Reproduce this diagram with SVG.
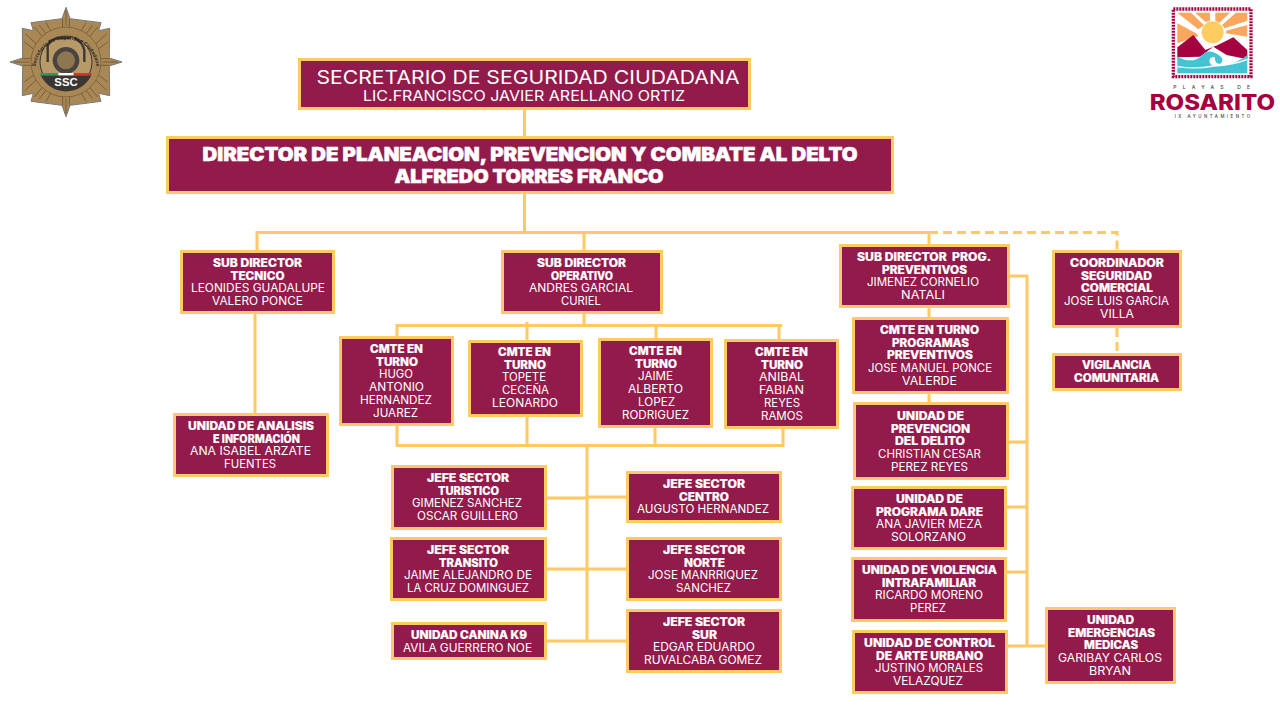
<svg xmlns="http://www.w3.org/2000/svg" width="1280" height="720" viewBox="0 0 1280 720">
<style>
text{font-family:"Inter","Liberation Sans",sans-serif;fill:#fff;text-anchor:middle;font-size:11.5px}
.b{font-weight:800;stroke:#fff;stroke-width:.2}
.r{font-weight:400}
.box{fill:#931B4B;stroke:#FFC965;stroke-width:3}
.c{fill:none;stroke:#FFC965;stroke-width:3}
.d{stroke-dasharray:9 5}
</style>
<rect width="1280" height="720" fill="#fff"/>
<g id="connectors">
<path class="c" d="M524.500 110V136M524.500 194V232.500M257 250V232.500H929M584 232.500V250M929 232.500V244M255 314V413"/>
<path class="c d" d="M929 232.500H1117V250M1117 328V353"/>
<path class="c" d="M584 314V325.500M397 336V325.500H782M527 322V340M656 325.500V338M779 325.500V339"/>
<path class="c" d="M397 426V445.500H783V429M527 417V445.500M655 428V445.500M587 444V641"/>
<path class="c" d="M547 498H587M587 497H626M547 569H626M547 641H626"/>
<path class="c" d="M929 308V317M929 394V402M1010 276H1027V647M1009 442H1027M1007 507H1027M1007 572H1027M1008 646H1045"/>
</g>
<g id="logo-ssc" transform="translate(66,62) scale(.3333)">
<polygon points="0,-164 12,-130 105,-118 98,-94 131,-101 130,-12 168,0 130,12 131,101 98,94 105,118 12,130 0,164 -12,130 -105,118 -98,94 -131,101 -130,12 -168,0 -130,-12 -131,-101 -98,-94 -105,-118 -12,-130" fill="#A98856" stroke="#77777a" stroke-width="3"/>
<g stroke="#6d5636" stroke-width="2.500">
<path d="M0-155V-110M-10-130V-105M10-130V-105M155 0H110M130-10H105M130 10H105M0 155V110M-10 130V105M10 130V105M-155 0H-110M-130-10H-105M-130 10H-105"/>
<path d="M95-105L70-75M80-110L58-82M60-118L45-92M-95-105L-70-75M-80-110L-58-82M-60-118L-45-92M95 105L70 75M80 110L58 82M60 118L45 92M-95 105L-70 75M-80 110L-58 82M-60 118L-45 92"/>
<path d="M122-85L85-50M125-60L92-35M-122-85L-85-50M-125-60L-92-35M122 85L85 50M125 60L92 35M-122 85L-85 50M-125 60L-92 35"/>
</g>
<circle r="105" fill="#A98856" stroke="#6d5636" stroke-width="2"/>
<circle r="78" fill="#B89A68" stroke="#3a3633" stroke-width="3"/>
<path d="M-76 40H76A84 84 0 0 1 -76 40Z" fill="#3a3633"/>
<circle cy="-5" r="40" fill="#4a4440"/>
<circle cy="-5" r="27" fill="#8d7650"/>
<path d="M-55 0V-50Q-45-70-20-72H15M55 0V-35Q50-60 25-72" fill="none" stroke="#3a3633" stroke-width="7"/>
<rect x="-77" y="33" width="54" height="7" fill="#2E9A57"/>
<rect x="-23" y="33" width="46" height="7" fill="#fff"/>
<rect x="23" y="33" width="54" height="7" fill="#D5342B"/>
<text y="71" style="font-size:34px;font-weight:800;font-family:'Liberation Sans',sans-serif">SSC</text>
<path id="ssc-arc" d="M-91 10A92 92 0 0 1 91 10" fill="none"/>
<text textLength="270" style="font-size:15px;fill:#2d2a28;font-weight:700"><textPath href="#ssc-arc" startOffset="50%">Secretaria De Seguridad Ciudadana</textPath></text>
</g>
<g id="logo-rosarito" transform="translate(1130,0) scale(.3333)">
<rect x="130" y="27" width="233" height="203" fill="#fff" stroke="#A5003F" stroke-width="10" stroke-dasharray="6 3"/>
<rect x="142" y="38" width="210" height="182" fill="#fff"/>
<g fill="#F9A65E">
<polygon points="142,38 183,38 222,76 205,88"/>
<polygon points="195,38 240,38 240,62 227,66"/>
<polygon points="256,38 300,38 268,68 256,62"/>
<polygon points="318,38 352,38 352,62 284,85 276,75"/>
<polygon points="352,75 352,110 288,100 288,92"/>
<polygon points="142,70 198,100 205,108 142,130"/>
</g>
<circle cx="248" cy="97" r="33" fill="#FFCD5F"/>
<polygon points="142,142 190,105 226,150 262,136 310,112 352,150 352,178 290,165 250,140 210,170 142,172" fill="#A5003F"/>
<path d="M142 170Q185 192 212 170Q235 140 270 168Q285 180 270 192Q255 190 255 178Q258 165 240 175Q230 205 285 195Q320 190 352 165V208Q300 205 270 208Q210 220 142 205Z" fill="#45C3D5"/>
<rect x="142" y="205" width="210" height="15" fill="#45C3D5"/>
<path d="M142 200Q200 208 250 198Q310 195 352 178" fill="none" stroke="#fff" stroke-width="4"/>
<text x="245" y="266" textLength="230" lengthAdjust="spacing" style="font-size:15px;fill:#444;font-weight:500">PLAYAS DE</text>
<text x="247" y="329" textLength="376" lengthAdjust="spacingAndGlyphs" style="font-size:64px;fill:#A5003F;font-weight:800">ROSARITO</text>
<text x="247" y="353" textLength="226" lengthAdjust="spacing" style="font-size:13px;fill:#444;font-weight:500">IX AYUNTAMIENTO</text>
</g>
<g id="n-secretario"><rect class="box" x="299.500" y="59.500" width="450" height="49"/>
<text class="r" x="528" y="84" textLength="423" lengthAdjust="spacingAndGlyphs" style="font-size:19px">SECRETARIO DE SEGURIDAD CIUDADANA</text>
<text class="r" x="524" y="101" textLength="322" lengthAdjust="spacingAndGlyphs" style="font-size:14.500px">LIC.FRANCISCO JAVIER ARELLANO ORTIZ</text></g>
<g id="n-director"><rect class="box" x="167.500" y="137.500" width="725" height="55"/>
<text class="b" x="530" y="161" textLength="655" lengthAdjust="spacingAndGlyphs" style="font-size:18.500px;font-weight:900;stroke-width:.5">DIRECTOR DE PLANEACION, PREVENCION Y COMBATE AL DELTO</text>
<text class="b" x="529" y="183" textLength="269" lengthAdjust="spacingAndGlyphs" style="font-size:18.500px;font-weight:900;stroke-width:.5">ALFREDO TORRES FRANCO</text></g>
<g id="n-tecnico"><rect class="box" x="181.500" y="251.500" width="152" height="61"/>
<text class="b" x="257.500" y="267" textLength="89" lengthAdjust="spacingAndGlyphs">SUB DIRECTOR</text>
<text class="b" x="257.500" y="280" textLength="54" lengthAdjust="spacingAndGlyphs">TECNICO</text>
<text class="r" x="258" y="292" textLength="134" lengthAdjust="spacingAndGlyphs">LEONIDES GUADALUPE</text>
<text class="r" x="257.500" y="305" textLength="91" lengthAdjust="spacingAndGlyphs">VALERO PONCE</text></g>
<g id="n-operativo"><rect class="box" x="502.500" y="251.500" width="159" height="61"/>
<text class="b" x="581.500" y="267" textLength="89" lengthAdjust="spacingAndGlyphs">SUB DIRECTOR</text>
<text class="b" x="582" y="280" textLength="62" lengthAdjust="spacingAndGlyphs">OPERATIVO</text>
<text class="r" x="581" y="292" textLength="104" lengthAdjust="spacingAndGlyphs">ANDRES GARCIAL</text>
<text class="r" x="581" y="305" textLength="40" lengthAdjust="spacingAndGlyphs">CURIEL</text></g>
<g id="n-prog"><rect class="box" x="840.500" y="245.500" width="168" height="61"/>
<text class="b" x="924" y="261" textLength="134" lengthAdjust="spacingAndGlyphs" xml:space="preserve">SUB DIRECTOR  PROG.</text>
<text class="b" x="924.500" y="274" textLength="85" lengthAdjust="spacingAndGlyphs">PREVENTIVOS</text>
<text class="r" x="923" y="286" textLength="112" lengthAdjust="spacingAndGlyphs">JIMENEZ CORNELIO</text>
<text class="r" x="923" y="299" textLength="44" lengthAdjust="spacingAndGlyphs">NATALI</text></g>
<g id="n-coordinador"><rect class="box" x="1053.500" y="251.500" width="127" height="75"/>
<text class="b" x="1117" y="267" textLength="94" lengthAdjust="spacingAndGlyphs">COORDINADOR</text>
<text class="b" x="1116.500" y="280" textLength="71" lengthAdjust="spacingAndGlyphs">SEGURIDAD</text>
<text class="b" x="1117" y="292" textLength="72" lengthAdjust="spacingAndGlyphs">COMERCIAL</text>
<text class="r" x="1116.500" y="305" textLength="105" lengthAdjust="spacingAndGlyphs">JOSE LUIS GARCIA</text>
<text class="r" x="1117" y="318" textLength="34" lengthAdjust="spacingAndGlyphs">VILLA</text></g>
<g id="n-vigilancia"><rect class="box" x="1053.500" y="354.500" width="127" height="35"/>
<text class="b" x="1116.500" y="369" textLength="69" lengthAdjust="spacingAndGlyphs">VIGILANCIA</text>
<text class="b" x="1116.500" y="382" textLength="85" lengthAdjust="spacingAndGlyphs">COMUNITARIA</text></g>
<g id="n-analisis"><rect class="box" x="174.500" y="414.500" width="153" height="61"/>
<text class="b" x="251" y="430" textLength="126" lengthAdjust="spacingAndGlyphs">UNIDAD DE ANALISIS</text>
<text class="b" x="256.500" y="443" textLength="87" lengthAdjust="spacingAndGlyphs">E INFORMACIÓN</text>
<text class="r" x="250.500" y="455" textLength="121" lengthAdjust="spacingAndGlyphs">ANA ISABEL ARZATE</text>
<text class="r" x="250" y="468" textLength="52" lengthAdjust="spacingAndGlyphs">FUENTES</text></g>
<g id="n-cmte1"><rect class="box" x="340.500" y="337.500" width="112" height="87"/>
<text class="b" x="396.500" y="353" textLength="53" lengthAdjust="spacingAndGlyphs">CMTE EN</text>
<text class="b" x="397" y="366" textLength="42" lengthAdjust="spacingAndGlyphs">TURNO</text>
<text class="r" x="396" y="378" textLength="34" lengthAdjust="spacingAndGlyphs">HUGO</text>
<text class="r" x="396.500" y="391" textLength="55" lengthAdjust="spacingAndGlyphs">ANTONIO</text>
<text class="r" x="396" y="404" textLength="72" lengthAdjust="spacingAndGlyphs">HERNANDEZ</text>
<text class="r" x="395.500" y="417" textLength="45" lengthAdjust="spacingAndGlyphs">JUAREZ</text></g>
<g id="n-cmte2"><rect class="box" x="469.500" y="341.500" width="112" height="74"/>
<text class="b" x="524.500" y="356" textLength="53" lengthAdjust="spacingAndGlyphs">CMTE EN</text>
<text class="b" x="525" y="369" textLength="42" lengthAdjust="spacingAndGlyphs">TURNO</text>
<text class="r" x="524" y="381" textLength="44" lengthAdjust="spacingAndGlyphs">TOPETE</text>
<text class="r" x="525.500" y="394" textLength="47" lengthAdjust="spacingAndGlyphs">CECEÑA</text>
<text class="r" x="525" y="407" textLength="66" lengthAdjust="spacingAndGlyphs">LEONARDO</text></g>
<g id="n-cmte3"><rect class="box" x="599.500" y="339.500" width="112" height="87"/>
<text class="b" x="655.500" y="355" textLength="53" lengthAdjust="spacingAndGlyphs">CMTE EN</text>
<text class="b" x="656" y="368" textLength="42" lengthAdjust="spacingAndGlyphs">TURNO</text>
<text class="r" x="655.500" y="380" textLength="35" lengthAdjust="spacingAndGlyphs">JAIME</text>
<text class="r" x="655.500" y="393" textLength="55" lengthAdjust="spacingAndGlyphs">ALBERTO</text>
<text class="r" x="656.500" y="406" textLength="37" lengthAdjust="spacingAndGlyphs">LOPEZ</text>
<text class="r" x="655.500" y="419" textLength="67" lengthAdjust="spacingAndGlyphs">RODRIGUEZ</text></g>
<g id="n-cmte4"><rect class="box" x="725.500" y="340.500" width="112" height="87"/>
<text class="b" x="781.500" y="356" textLength="53" lengthAdjust="spacingAndGlyphs">CMTE EN</text>
<text class="b" x="782" y="369" textLength="42" lengthAdjust="spacingAndGlyphs">TURNO</text>
<text class="r" x="781.500" y="381" textLength="45" lengthAdjust="spacingAndGlyphs">ANIBAL</text>
<text class="r" x="781.500" y="394" textLength="45" lengthAdjust="spacingAndGlyphs">FABIAN</text>
<text class="r" x="782" y="407" textLength="36" lengthAdjust="spacingAndGlyphs">REYES</text>
<text class="r" x="782" y="420" textLength="42" lengthAdjust="spacingAndGlyphs">RAMOS</text></g>
<g id="n-turistico"><rect class="box" x="392.500" y="466.500" width="153" height="62"/>
<text class="b" x="468" y="482" textLength="82" lengthAdjust="spacingAndGlyphs">JEFE SECTOR</text>
<text class="b" x="468.500" y="495" textLength="61" lengthAdjust="spacingAndGlyphs">TURISTICO</text>
<text class="r" x="467" y="507" textLength="110" lengthAdjust="spacingAndGlyphs">GIMENEZ SANCHEZ</text>
<text class="r" x="467.500" y="520" textLength="101" lengthAdjust="spacingAndGlyphs">OSCAR GUILLERO</text></g>
<g id="n-centro"><rect class="box" x="627.500" y="472.500" width="153" height="49"/>
<text class="b" x="704" y="488" textLength="82" lengthAdjust="spacingAndGlyphs">JEFE SECTOR</text>
<text class="b" x="704" y="501" textLength="50" lengthAdjust="spacingAndGlyphs">CENTRO</text>
<text class="r" x="703" y="513" textLength="132" lengthAdjust="spacingAndGlyphs">AUGUSTO HERNANDEZ</text></g>
<g id="n-transito"><rect class="box" x="391.500" y="538.500" width="154" height="61"/>
<text class="b" x="468" y="554" textLength="82" lengthAdjust="spacingAndGlyphs">JEFE SECTOR</text>
<text class="b" x="468.500" y="567" textLength="59" lengthAdjust="spacingAndGlyphs">TRANSITO</text>
<text class="r" x="468" y="579" textLength="128" lengthAdjust="spacingAndGlyphs">JAIME ALEJANDRO DE</text>
<text class="r" x="468" y="592" textLength="122" lengthAdjust="spacingAndGlyphs">LA CRUZ DOMINGUEZ</text></g>
<g id="n-norte"><rect class="box" x="627.500" y="538.500" width="153" height="61"/>
<text class="b" x="704" y="554" textLength="82" lengthAdjust="spacingAndGlyphs">JEFE SECTOR</text>
<text class="b" x="704.500" y="567" textLength="41" lengthAdjust="spacingAndGlyphs">NORTE</text>
<text class="r" x="703" y="579" textLength="110" lengthAdjust="spacingAndGlyphs">JOSE MANRRIQUEZ</text>
<text class="r" x="703.500" y="592" textLength="55" lengthAdjust="spacingAndGlyphs">SANCHEZ</text></g>
<g id="n-canina"><rect class="box" x="392.500" y="623.500" width="153" height="35"/>
<text class="b" x="469" y="639" textLength="116" lengthAdjust="spacingAndGlyphs">UNIDAD CANINA K9</text>
<text class="r" x="467.500" y="652" textLength="129" lengthAdjust="spacingAndGlyphs">AVILA GUERRERO NOE</text></g>
<g id="n-sur"><rect class="box" x="627.500" y="610.500" width="153" height="61"/>
<text class="b" x="704" y="626" textLength="82" lengthAdjust="spacingAndGlyphs">JEFE SECTOR</text>
<text class="b" x="704.500" y="639" textLength="25" lengthAdjust="spacingAndGlyphs">SUR</text>
<text class="r" x="704" y="651" textLength="102" lengthAdjust="spacingAndGlyphs">EDGAR EDUARDO</text>
<text class="r" x="703" y="664" textLength="118" lengthAdjust="spacingAndGlyphs">RUVALCABA GOMEZ</text></g>
<g id="n-cmteprog"><rect class="box" x="853.500" y="318.500" width="154" height="74"/>
<text class="b" x="929.500" y="334" textLength="99" lengthAdjust="spacingAndGlyphs">CMTE EN TURNO</text>
<text class="b" x="930.500" y="347" textLength="77" lengthAdjust="spacingAndGlyphs">PROGRAMAS</text>
<text class="b" x="930" y="359" textLength="86" lengthAdjust="spacingAndGlyphs">PREVENTIVOS</text>
<text class="r" x="930" y="372" textLength="124" lengthAdjust="spacingAndGlyphs">JOSE MANUEL PONCE</text>
<text class="r" x="929.500" y="385" textLength="55" lengthAdjust="spacingAndGlyphs">VALERDE</text></g>
<g id="n-prevencion"><rect class="box" x="854.500" y="403.500" width="153" height="75"/>
<text class="b" x="930.500" y="420" textLength="67" lengthAdjust="spacingAndGlyphs">UNIDAD DE</text>
<text class="b" x="930.500" y="433" textLength="79" lengthAdjust="spacingAndGlyphs">PREVENCION</text>
<text class="b" x="930" y="445" textLength="70" lengthAdjust="spacingAndGlyphs">DEL DELITO</text>
<text class="r" x="929.500" y="458" textLength="103" lengthAdjust="spacingAndGlyphs">CHRISTIAN CESAR</text>
<text class="r" x="929.500" y="471" textLength="77" lengthAdjust="spacingAndGlyphs">PEREZ REYES</text></g>
<g id="n-dare"><rect class="box" x="852.500" y="487.500" width="153" height="61"/>
<text class="b" x="929.500" y="503" textLength="67" lengthAdjust="spacingAndGlyphs">UNIDAD DE</text>
<text class="b" x="929.500" y="516" textLength="107" lengthAdjust="spacingAndGlyphs">PROGRAMA DARE</text>
<text class="r" x="929" y="528" textLength="106" lengthAdjust="spacingAndGlyphs">ANA JAVIER MEZA</text>
<text class="r" x="928.500" y="541" textLength="75" lengthAdjust="spacingAndGlyphs">SOLORZANO</text></g>
<g id="n-violencia"><rect class="box" x="852.500" y="558.500" width="153" height="62"/>
<text class="b" x="929.500" y="574" textLength="135" lengthAdjust="spacingAndGlyphs">UNIDAD DE VIOLENCIA</text>
<text class="b" x="929" y="587" textLength="94" lengthAdjust="spacingAndGlyphs">INTRAFAMILIAR</text>
<text class="r" x="929" y="599" textLength="108" lengthAdjust="spacingAndGlyphs">RICARDO MORENO</text>
<text class="r" x="928" y="612" textLength="36" lengthAdjust="spacingAndGlyphs">PEREZ</text></g>
<g id="n-control"><rect class="box" x="853.500" y="631.500" width="153" height="61"/>
<text class="b" x="929.500" y="647" textLength="131" lengthAdjust="spacingAndGlyphs">UNIDAD DE CONTROL</text>
<text class="b" x="929.500" y="660" textLength="107" lengthAdjust="spacingAndGlyphs">DE ARTE URBANO</text>
<text class="r" x="929" y="672" textLength="108" lengthAdjust="spacingAndGlyphs">JUSTINO MORALES</text>
<text class="r" x="928" y="685" textLength="70" lengthAdjust="spacingAndGlyphs">VELAZQUEZ</text></g>
<g id="n-emergencias"><rect class="box" x="1046.500" y="608.500" width="128" height="74"/>
<text class="b" x="1110.500" y="624" textLength="47" lengthAdjust="spacingAndGlyphs">UNIDAD</text>
<text class="b" x="1111.500" y="637" textLength="87" lengthAdjust="spacingAndGlyphs">EMERGENCIAS</text>
<text class="b" x="1111" y="649" textLength="54" lengthAdjust="spacingAndGlyphs">MEDICAS</text>
<text class="r" x="1110" y="662" textLength="104" lengthAdjust="spacingAndGlyphs">GARIBAY CARLOS</text>
<text class="r" x="1110" y="675" textLength="42" lengthAdjust="spacingAndGlyphs">BRYAN</text></g>
</svg>
